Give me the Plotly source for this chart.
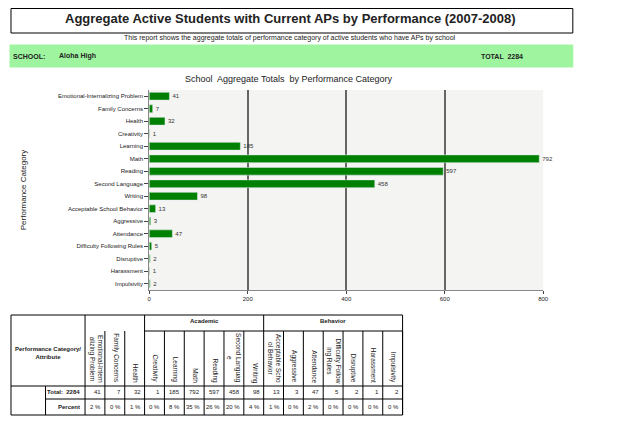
import plotly.graph_objects as go

categories = ["Emotional-Internalizing Problem", "Family Concerns", "Health", "Creativity",
              "Learning", "Math", "Reading", "Second Language", "Writing",
              "Acceptable School Behavior", "Aggressive", "Attendance",
              "Difficulty Following Rules", "Disruptive", "Harassment", "Impulsivity"]
totals = [41, 7, 32, 1, 185, 792, 597, 458, 98, 13, 3, 47, 5, 2, 1, 2]
percents = ["2 %", "0 %", "1 %", "0 %", "8 %", "35 %", "26 %", "20 %", "4 %",
            "1 %", "0 %", "2 %", "0 %", "0 %", "0 %", "0 %"]
header_labels = ["Emotional-Intern<br>alizing Problem", "Family Concerns", "Health", "Creativity",
                 "Learning", "Math", "Reading", "Second Languag<br>e", "Writing",
                 "Acceptable Scho<br>ol Behavior", "Aggressive", "Attendance",
                 "Difficulty Follow<br>ing Rules", "Disruptive", "Harassment", "Impulsivity"]
school = "Aloha High"
total_all = 2284

W, H = 635, 432
OFF = 7  # page offset of the rendered figure
def px(x): return (x - OFF) / W
def py(y): return 1 - (y - OFF) / H

fig = go.Figure()
fig.add_trace(go.Bar(
    x=totals, y=categories, orientation="h", marker_color="#008000",
    width=0.62, text=totals, textposition="outside", cliponaxis=False,
    textfont=dict(size=6, color="#333"), showlegend=False))

fig.update_layout(
    width=W, height=H, margin=dict(l=0, r=0, t=0, b=0),
    paper_bgcolor="white", plot_bgcolor="#f4f4f2",
    font=dict(family="Liberation Sans, Arial", color="#222"),
    xaxis=dict(domain=[px(148), px(547)], range=[0, 800], tickvals=[0, 200, 400, 600, 800],
               showgrid=True, gridcolor="#666", gridwidth=1.5, zeroline=False,
               tickfont=dict(size=6), ticks="outside", ticklen=3, showline=True, linecolor="#888"),
    yaxis=dict(domain=[py(289), py(89)], autorange="reversed", tickfont=dict(size=6),
               ticks="outside", ticklen=4, showline=True, linecolor="#888",
               title=dict(text="Performance Category", font=dict(size=8), standoff=30)),
)

shapes = []
def rect(x0, y0, x1, y1, fill=None, line="black", lw=1):
    shapes.append(dict(type="rect", xref="paper", yref="paper", x0=px(x0), x1=px(x1),
                       y0=py(y1), y1=py(y0), fillcolor=fill, line=dict(color=line, width=lw),
                       layer="below"))
def line(x0, y0, x1, y1):
    shapes.append(dict(type="line", xref="paper", yref="paper", x0=px(x0), x1=px(x1),
                       y0=py(y0), y1=py(y1), line=dict(color="black", width=1)))

ann = []
def text(x, y, s, size=7, bold=False, xa="center", angle=0, ya="middle"):
    ann.append(dict(x=px(x), y=py(y), xref="paper", yref="paper", text=f"<b>{s}</b>" if bold else s,
                    showarrow=False, font=dict(size=size), xanchor=xa, yanchor=ya, textangle=angle))

# header
rect(OFF + 1, OFF + 0.5, 577, 32)
text(291, 18, "Aggregate Active Students with Current APs by Performance (2007-2008)", 13, True)
text(291, 37, "This report shows the aggregate totals of performance category of active students who have APs by school", 7)
rect(OFF, 44, 577, 66, fill="#9ff59f", line="#9ff59f")
text(OFF + 1, 55, "SCHOOL:", 7, True, "left")
text(55, 55, school, 7, True, "left")
text(482, 55, f"TOTAL  {total_all}", 7, True, "left")
text(289, 78, "School  Aggregate Totals  by Performance Category", 9)

# table
x_left, x_data, cw = OFF + 1, 83, 20.1
n = len(categories)
x_right = x_data + cw * n
y_top, y_head, y_tot, y_pct, y_bot = 314, 330, 385, 398, 414
rect(x_left, y_top, x_right, y_bot, lw=1)
line(x_left, y_tot, x_right, y_tot)
line(x_data - 40, y_pct, x_right, y_pct)
line(x_data - 40, y_tot, x_data - 40, y_bot)
for i in range(n + 1):
    xc = x_data + cw * i
    top = y_top if i in (0, 3, 9) else y_head
    line(xc, top, xc, y_bot)
line(x_data + 3 * cw, y_head, x_right, y_head)
text(x_data + 6 * cw, 320, "Academic", 6, True)
text(x_data + 12.5 * cw, 320, "Behavior", 6, True)
text((x_left + x_data) / 2, 352, "Performance Category/<br>Attribute", 6, True)
text(x_data - 3, 391, f"Total:  {total_all}", 6, True, "right")
text(x_data - 3, 406, "Percent", 6, True, "right")
for i in range(n):
    xc = x_data + cw * i
    text(xc + cw / 2 + 1, y_tot - 1, header_labels[i], 6.5, False, "center", 90, "bottom")
    text(xc + cw - 2, 391, str(totals[i]), 6, False, "right")
    text(xc + cw - 2, 406, percents[i], 6, False, "right")

fig.update_layout(shapes=shapes, annotations=ann)
fig.write_html("out.html")
